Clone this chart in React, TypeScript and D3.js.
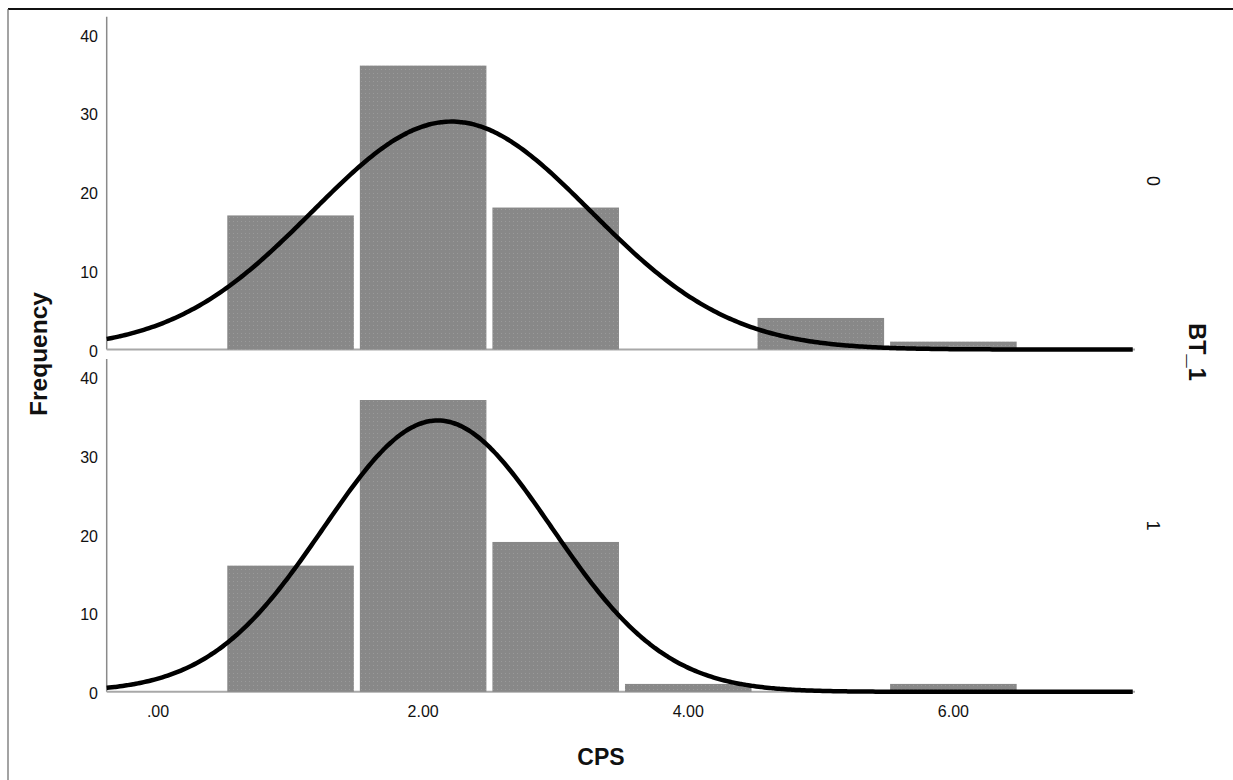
import React from "react";
import * as d3 from "d3";

const binCenters = [1, 2, 3, 4, 5, 6];
const freqBT0 = [17, 36, 18, 0, 4, 1];
const freqBT1 = [16, 37, 19, 1, 0, 1];
const groupLabels = ["0", "1"];
const groupMeans = [2.215, 2.11];
const groupSDs = [1.049, 0.858];
const yTicks = [0, 10, 20, 30, 40];
const xTicks = [0, 2, 4, 6];
const xTickLabels = [".00", "2.00", "4.00", "6.00"];

const W = 1233;
const H = 780;
const FONT = "'Liberation Sans', Arial, sans-serif";

export default function App() {
  const x = d3.scaleLinear().domain([-0.387, 7.37]).range([106.7, 1135]);
  const panelTops = [16.7, 359];
  const panelH = 332.8;
  const yMax = 42.2;
  const series = [freqBT0, freqBT1];

  return (
    <svg
      width={W}
      height={H}
      style={{ position: "absolute", left: 0, top: 0, background: "#fff" }}
      fontFamily={FONT}
    >
      <defs>
        <pattern id="dots" width="4" height="4" patternUnits="userSpaceOnUse">
          <rect width="4" height="4" fill="#888888" />
          <rect x="1" y="1" width="1" height="1" fill="#9a9a9a" />
        </pattern>
      </defs>
      {/* frame */}
      <line x1={8} y1={9} x2={W} y2={9} stroke="#111" strokeWidth={2} />
      <line x1={8} y1={9} x2={8} y2={H} stroke="#666" strokeWidth={1.2} />

      {series.map((vals, gi) => {
        const top = panelTops[gi];
        const y = d3.scaleLinear().domain([0, yMax]).range([top + panelH, top]);
        const n = d3.sum(vals);
        const mu = groupMeans[gi];
        const sd = groupSDs[gi];
        const pts = d3.range(x.domain()[0], x.domain()[1] + 0.001, 0.02).map((v) => {
          const d = (n / (sd * Math.sqrt(2 * Math.PI))) * Math.exp(-0.5 * ((v - mu) / sd) ** 2);
          return [v, d] as [number, number];
        });
        const line = d3
          .line<[number, number]>()
          .x((d) => x(d[0]))
          .y((d) => y(d[1]))
          .curve(d3.curveBasis);
        return (
          <g key={gi}>
            {/* y axis */}
            <line x1={106.7} y1={top} x2={106.7} y2={y(0)} stroke="#8a8a8a" strokeWidth={1.5} />
            {yTicks.map((t) => (
              <text
                key={t}
                x={98}
                y={y(t) + 2}
                textAnchor="end"
                dominantBaseline="central"
                fontSize={16}
                fill="#111"
              >
                {t}
              </text>
            ))}
            {/* baseline */}
            <line x1={106.7} y1={y(0)} x2={1135} y2={y(0)} stroke="#a8a8a8" strokeWidth={2} />
            {/* bars */}
            {binCenters.map((c, i) =>
              vals[i] > 0 ? (
                <rect
                  key={c}
                  x={x(c - 0.5) + 3}
                  y={y(vals[i])}
                  width={x(c + 0.5) - x(c - 0.5) - 6}
                  height={y(0) - y(vals[i])}
                  fill="url(#dots)"
                />
              ) : null
            )}
            {/* normal curve */}
            <path d={line(pts) || ""} fill="none" stroke="#000" strokeWidth={4.5} />
            {/* facet label */}
            <text
              transform={`translate(1153, ${top + panelH * 0.5 - (gi === 0 ? 2 : 0)}) rotate(90)`}
              textAnchor="middle"
              dy="0.35em"
              fontSize={18}
              fill="#111"
            >
              {groupLabels[gi]}
            </text>
          </g>
        );
      })}

      {/* x tick labels */}
      {xTicks.map((t, i) => (
        <text key={t} x={x(t)} y={711} textAnchor="middle" dominantBaseline="central" fontSize={16} fill="#111">
          {xTickLabels[i]}
        </text>
      ))}

      <text x={601} y={757} textAnchor="middle" dominantBaseline="central" fontSize={23} fontWeight="bold" fill="#111">
        CPS
      </text>
      <text
        transform="translate(38, 354) rotate(-90)"
        textAnchor="middle"
        dy="0.35em"
        fontSize={24.5}
        fontWeight="bold"
        fill="#111"
      >
        Frequency
      </text>
      <text
        transform="translate(1197, 352) rotate(90)"
        textAnchor="middle"
        dy="0.35em"
        fontSize={23.5}
        fontWeight="bold"
        fill="#111"
      >
        BT_1
      </text>
    </svg>
  );
}
